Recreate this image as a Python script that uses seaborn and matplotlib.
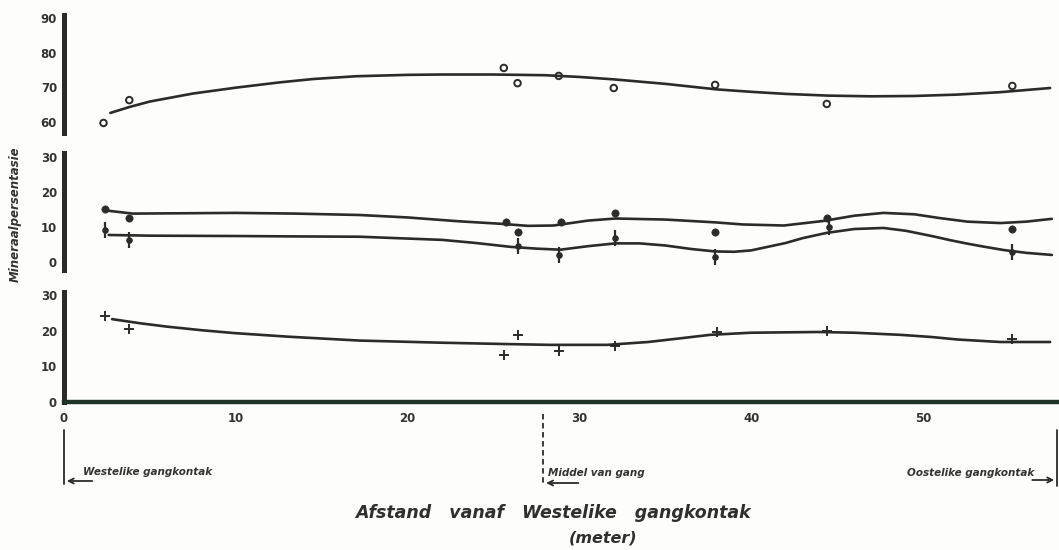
import numpy as np
import pandas as pd
import matplotlib
matplotlib.use("Agg")
import matplotlib.pyplot as plt
import matplotlib.transforms as mtransforms
import seaborn as sns

# ---- data ----
# top panel (open circles)
top_x = [2.3, 3.8, 25.6, 26.4, 28.8, 32.0, 37.9, 44.4, 55.2]
top_y = [59.7, 66.3, 75.6, 71.2, 73.3, 69.8, 70.7, 65.2, 70.4]
top_curve_x = [2.7, 3.8, 5, 7.5, 10, 12.5, 14.5, 17, 20, 22, 25, 28, 30, 32, 35, 38,
               40, 42, 44.5, 47, 49.5, 52, 54.5, 57.4]
top_curve_y = [62.6, 64.3, 65.9, 68.2, 69.9, 71.4, 72.4, 73.2, 73.6, 73.7, 73.7, 73.5, 73.0, 72.3,
               71.0, 69.4, 68.7, 68.1, 67.6, 67.4, 67.5, 67.9, 68.6, 69.8]

# middle panel, upper series (filled dots)
mid_up_x = [2.4, 3.8, 25.7, 26.4, 28.9, 32.1, 37.9, 44.4, 55.2]
mid_up_y = [15.1, 12.6, 11.4, 8.6, 11.4, 14.0, 8.6, 12.6, 9.4]
mid_up_curve_x = [2.6, 4, 7, 10, 13.5, 17.2, 20, 23, 25.4, 27, 28.5, 30.5, 32.1, 35, 37.9,
                  39.5, 41.9, 44.2, 46, 47.7, 49.5, 51, 52.6, 54.5, 56, 57.5]
mid_up_curve_y = [14.6, 13.8, 13.9, 14.0, 13.8, 13.4, 12.7, 11.6, 10.9, 10.3, 10.4, 11.8, 12.4,
                  12.1, 11.3, 10.7, 10.4, 11.7, 13.2, 14.0, 13.6, 12.5, 11.5, 11.1, 11.5, 12.3]

# middle panel, lower series (bar markers)
mid_lo_x = [2.4, 3.8, 26.4, 28.8, 32.1, 37.9, 44.5, 55.2]
mid_lo_y = [9.1, 6.3, 4.6, 2.0, 6.9, 1.4, 10.0, 2.9]
mid_lo_curve_x = [2.6, 5, 10, 13, 17.2, 22, 24, 26.0, 27.5, 28.9, 30.5, 32.1, 33.5, 35, 36.5,
                  37.9, 39, 40, 42, 43, 44.4, 46, 47.7, 49, 50.6, 51.5, 52.5, 53.5, 54.7, 56, 57.5]
mid_lo_curve_y = [7.7, 7.5, 7.4, 7.3, 7.2, 6.3, 5.4, 4.3, 3.8, 3.5, 4.5, 5.3, 5.3, 4.7, 3.7,
                  3.0, 2.9, 3.3, 5.4, 6.8, 8.3, 9.4, 9.7, 8.9, 7.3, 6.3, 5.3, 4.4, 3.4, 2.6, 2.0]

# bottom panel (plus markers)
bot_x = [2.4, 3.8, 25.6, 26.4, 28.8, 32.1, 38.0, 44.4, 55.2]
bot_y = [24.1, 20.4, 13.2, 18.8, 14.3, 15.7, 19.6, 19.9, 17.6]
bot_curve_x = [2.8, 4.5, 6, 8, 9.9, 13, 17.2, 22, 26, 28.3, 31.6, 34, 36, 37.6, 40, 43.9,
               46, 48.7, 50.5, 52, 54.5, 57.4]
bot_curve_y = [23.2, 22.0, 21.1, 20.1, 19.3, 18.3, 17.2, 16.6, 16.2, 16.0, 16.0, 16.8, 17.9,
               18.8, 19.4, 19.6, 19.4, 18.8, 18.2, 17.5, 16.8, 16.8]

x_ticks = [0, 10, 20, 30, 40, 50]
top_ticks = [60, 70, 80, 90]
mid_ticks = [0, 10, 20, 30]
bot_ticks = [0, 10, 20, 30]
mid_gang = 27.9
x_end = 57.8

sns.set_style("white")
plt.rcParams['font.family'] = ['DejaVu Sans']

ink = '#2b2b2b'
W, H = 1059, 550
fig = plt.figure(figsize=(W / 100, H / 100), dpi=100)
fig.patch.set_facecolor('#fdfdfb')

def fx(px):
    return px / W

def fy(py):
    return 1 - py / H

left, width = fx(64), fx(1057 - 64)
ax_top = fig.add_axes([left, fy(133), width, 118 / H])
ax_mid = fig.add_axes([left, fy(270), width, 117 / H])
ax_bot = fig.add_axes([left, fy(402), width, 110 / H])

for ax in (ax_top, ax_mid, ax_bot):
    ax.set_facecolor('none')
    ax.set_xlim(0, x_end)
    ax.spines[['top', 'right', 'bottom']].set_visible(False)
    ax.spines['left'].set_linewidth(3.6)
    ax.spines['left'].set_color(ink)
    ax.tick_params(axis='y', direction='out', length=3, width=1, color=ink,
                   labelsize=8.5, labelcolor='#333333', pad=2)
    ax.set_xticks([])

ax_top.set_ylim(56.8, 90.9)
ax_mid.set_ylim(-2.3, 31.1)
ax_bot.set_ylim(0, 30.8)
ax_top.set_yticks(top_ticks)
ax_mid.set_yticks(mid_ticks)
ax_bot.set_yticks(bot_ticks)
for ax in (ax_top, ax_mid, ax_bot):
    ax.set_yticklabels([str(t) for t in ax.get_yticks()], fontweight='bold')

# curves
lw = 1.9
sns.lineplot(x=top_curve_x, y=top_curve_y, ax=ax_top, color=ink, lw=lw, sort=False)
sns.lineplot(x=mid_up_curve_x, y=mid_up_curve_y, ax=ax_mid, color=ink, lw=lw, sort=False)
sns.lineplot(x=mid_lo_curve_x, y=mid_lo_curve_y, ax=ax_mid, color=ink, lw=lw, sort=False)
sns.lineplot(x=bot_curve_x, y=bot_curve_y, ax=ax_bot, color=ink, lw=lw, sort=False)

# markers
ax_top.scatter(top_x, top_y, s=22, facecolors='none', edgecolors=ink, linewidths=1.4, zorder=5)
sns.scatterplot(x=mid_up_x, y=mid_up_y, ax=ax_mid, s=28, color=ink, edgecolor=ink, zorder=5)
ax_mid.scatter(mid_lo_x, mid_lo_y, s=120, marker='|', color=ink, linewidths=1.6, zorder=5)
ax_mid.scatter(mid_lo_x, mid_lo_y, s=14, marker='o', color=ink, zorder=5)
ax_bot.scatter(bot_x, bot_y, s=50, marker='+', color=ink, linewidths=1.4, zorder=5)

# x axis on the bottom panel
ax_bot.spines['bottom'].set_visible(True)
ax_bot.spines['bottom'].set_linewidth(3.2)
ax_bot.spines['bottom'].set_color('#1d3427')
ax_bot.set_xticks(x_ticks)
ax_bot.set_xticklabels([str(t) for t in x_ticks], fontweight='bold')
ax_bot.tick_params(axis='x', direction='out', length=3, width=1, color=ink,
                   labelsize=8.5, labelcolor='#333333', pad=4)

# y label
fig.text(fx(15), fy(214), 'Mineraalpersentasie', rotation=90, ha='center', va='center',
         fontsize=8.5, fontweight='bold', style='italic', color='#333333')

# gang markers below axis
tr = mtransforms.blended_transform_factory(ax_bot.transData, fig.transFigure)
line_kw = dict(color=ink, lw=1.3, transform=tr, clip_on=False)
fig.add_artist(plt.Line2D([0, 0], [fy(430), fy(484)], **line_kw))
fig.add_artist(plt.Line2D([mid_gang, mid_gang], [fy(414), fy(484)], ls=(0, (3, 2)), **line_kw))
fig.add_artist(plt.Line2D([x_end, x_end], [fy(430), fy(486)], **line_kw))

arrow_kw = dict(arrowstyle='->', color=ink, lw=1.3)
fig.add_artist(matplotlib.patches.FancyArrowPatch((1.8, fy(481)), (0, fy(481)), transform=tr,
                                                  mutation_scale=9, **arrow_kw))
fig.add_artist(matplotlib.patches.FancyArrowPatch((mid_gang + 2.2, fy(483)), (mid_gang, fy(483)),
                                                  transform=tr, mutation_scale=9, **arrow_kw))
fig.add_artist(matplotlib.patches.FancyArrowPatch((x_end - 1.6, fy(480)), (x_end, fy(480)),
                                                  transform=tr, mutation_scale=9, **arrow_kw))

note_kw = dict(fontsize=7.5, fontweight='bold', style='italic', color='#333333',
               va='center', transform=tr)
fig.text(1.1, fy(472), 'Westelike gangkontak', ha='left', **note_kw)
fig.text(mid_gang + 0.3, fy(473), 'Middel van gang', ha='left', **note_kw)
fig.text(x_end - 1.3, fy(473), 'Oostelike gangkontak', ha='right', **note_kw)

fig.text(fx(553), fy(513), 'Afstand   vanaf   Westelike   gangkontak', ha='center', va='center',
         fontsize=12.5, fontweight='bold', style='italic', color='#2f2f2f')
fig.text(fx(603), fy(538), '(meter)', ha='center', va='center',
         fontsize=11.5, fontweight='bold', style='italic', color='#2f2f2f')

fig.savefig('out.png', dpi=100, facecolor=fig.get_facecolor())
